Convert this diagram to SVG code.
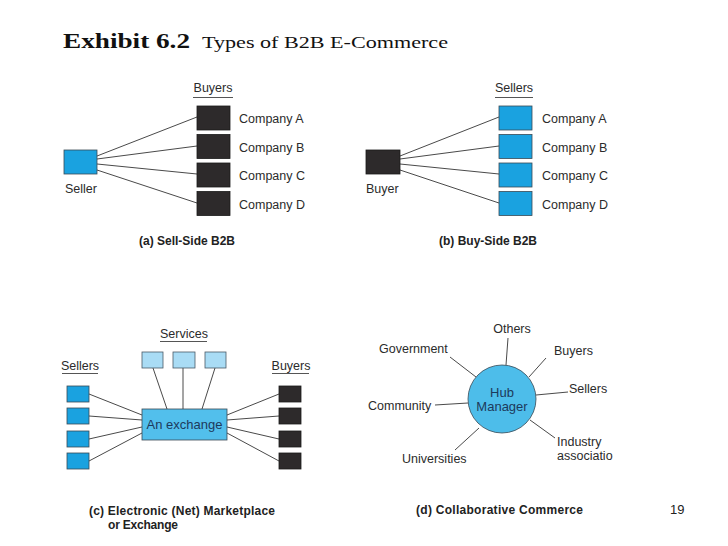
<svg xmlns="http://www.w3.org/2000/svg" width="728" height="546" viewBox="0 0 728 546">
<style>
text{font-family:"Liberation Sans",Arial,sans-serif;fill:#2b2b2b;font-size:12.5px}
text.t1{font-family:"Liberation Serif","Times New Roman",serif;fill:#111;font-size:21px;font-weight:bold}
text.t2{font-family:"Liberation Serif","Times New Roman",serif;fill:#111;font-size:17px}
text.cap{font-weight:bold;font-size:12px;fill:#222}
text.pg{font-size:13px;fill:#222}
.blue{fill:#1aa2e0;stroke:#3a4a55;stroke-width:0.8}
.dark{fill:#2d2a2b;stroke:#1a1a1a;stroke-width:0.8}
.light{fill:#a9dcf5;stroke:#4a5a66;stroke-width:0.8}
.mid{fill:#52bfec;stroke:#3a4a55;stroke-width:0.8}
.ln{stroke:#4a4a4a;stroke-width:1;fill:none}
.ul{stroke:#555;stroke-width:1}
text.navy{fill:#1d3a5c;font-size:13px}
</style>
<rect width="728" height="546" fill="#fff"/>
<g id="title">
<text class="t1" x="63" y="48" textLength="127" lengthAdjust="spacingAndGlyphs">Exhibit 6.2</text>
<text class="t2" x="202" y="48" textLength="246" lengthAdjust="spacingAndGlyphs">Types of B2B E-Commerce</text>
</g>
<g id="connectors">
<line class="ln" x1="97" y1="156" x2="197" y2="117"/>
<line class="ln" x1="97" y1="159" x2="197" y2="146"/>
<line class="ln" x1="97" y1="164" x2="197" y2="174"/>
<line class="ln" x1="97" y1="170" x2="197" y2="203"/>
<line class="ln" x1="400" y1="156" x2="499" y2="117"/>
<line class="ln" x1="400" y1="159" x2="499" y2="146"/>
<line class="ln" x1="400" y1="164" x2="499" y2="174"/>
<line class="ln" x1="400" y1="170" x2="499" y2="203"/>
<line class="ln" x1="89" y1="394" x2="142" y2="415"/>
<line class="ln" x1="89" y1="416" x2="142" y2="420"/>
<line class="ln" x1="89" y1="439" x2="142" y2="427"/>
<line class="ln" x1="89" y1="461" x2="142" y2="433"/>
<line class="ln" x1="279" y1="394" x2="227" y2="415"/>
<line class="ln" x1="279" y1="416" x2="227" y2="420"/>
<line class="ln" x1="279" y1="439" x2="227" y2="427"/>
<line class="ln" x1="279" y1="461" x2="227" y2="433"/>
<line class="ln" x1="153" y1="368" x2="167" y2="409"/>
<line class="ln" x1="183" y1="368" x2="183" y2="409"/>
<line class="ln" x1="215" y1="368" x2="202" y2="409"/>
<line class="ln" x1="508" y1="338" x2="506" y2="365"/>
<line class="ln" x1="450" y1="357" x2="476" y2="377"/>
<line class="ln" x1="546" y1="358" x2="529" y2="377"/>
<line class="ln" x1="568" y1="392" x2="536" y2="395"/>
<line class="ln" x1="435" y1="405" x2="468" y2="403"/>
<line class="ln" x1="555" y1="438" x2="530" y2="420"/>
<line class="ln" x1="455" y1="450" x2="479" y2="428"/>
</g>
<g id="panel-a">
<g id="a-seller"><rect class="blue" x="64" y="150" width="33" height="24"/><text x="65" y="193">Seller</text></g>
<g id="a-buyers-label"><text x="213" y="92" text-anchor="middle">Buyers</text><line class="ul" x1="193" y1="97.5" x2="233" y2="97.5"/></g>
<g id="a-company-a"><rect class="dark" x="197" y="106" width="33" height="24"/><text x="239" y="123">Company A</text></g>
<g id="a-company-b"><rect class="dark" x="197" y="134.5" width="33" height="24"/><text x="239" y="152">Company B</text></g>
<g id="a-company-c"><rect class="dark" x="197" y="163" width="33" height="24"/><text x="239" y="180">Company C</text></g>
<g id="a-company-d"><rect class="dark" x="197" y="191.5" width="33" height="24"/><text x="239" y="209">Company D</text></g>
<text class="cap" x="139" y="245">(a) Sell-Side B2B</text>
</g>
<g id="panel-b">
<g id="b-buyer"><rect class="dark" x="366" y="150" width="34" height="24"/><text x="366" y="193">Buyer</text></g>
<g id="b-sellers-label"><text x="514" y="92" text-anchor="middle">Sellers</text><line class="ul" x1="495" y1="97.5" x2="533" y2="97.5"/></g>
<g id="b-company-a"><rect class="blue" x="499" y="106" width="33" height="24"/><text x="542" y="123">Company A</text></g>
<g id="b-company-b"><rect class="blue" x="499" y="134.5" width="33" height="24"/><text x="542" y="152">Company B</text></g>
<g id="b-company-c"><rect class="blue" x="499" y="163" width="33" height="24"/><text x="542" y="180">Company C</text></g>
<g id="b-company-d"><rect class="blue" x="499" y="191.5" width="33" height="24"/><text x="542" y="209">Company D</text></g>
<text class="cap" x="439" y="245">(b) Buy-Side B2B</text>
</g>
<g id="panel-c">
<g id="c-services-label"><text x="184" y="338" text-anchor="middle">Services</text><line class="ul" x1="160" y1="341.5" x2="207" y2="341.5"/></g>
<g id="c-service-1"><rect class="light" x="142" y="352" width="21" height="16"/></g>
<g id="c-service-2"><rect class="light" x="173" y="352" width="22" height="16"/></g>
<g id="c-service-3"><rect class="light" x="205" y="352" width="21" height="16"/></g>
<g id="c-sellers-label"><text x="80" y="370" text-anchor="middle">Sellers</text><line class="ul" x1="62" y1="373.5" x2="98" y2="373.5"/></g>
<g id="c-buyers-label"><text x="291" y="370" text-anchor="middle">Buyers</text><line class="ul" x1="272" y1="373.5" x2="309" y2="373.5"/></g>
<g id="c-seller-1"><rect class="blue" x="67" y="386" width="22" height="16"/></g>
<g id="c-seller-2"><rect class="blue" x="67" y="408" width="22" height="16"/></g>
<g id="c-seller-3"><rect class="blue" x="67" y="431" width="22" height="16"/></g>
<g id="c-seller-4"><rect class="blue" x="67" y="453" width="22" height="16"/></g>
<g id="c-buyer-1"><rect class="dark" x="279" y="386" width="22" height="16"/></g>
<g id="c-buyer-2"><rect class="dark" x="279" y="408" width="22" height="16"/></g>
<g id="c-buyer-3"><rect class="dark" x="279" y="431" width="22" height="16"/></g>
<g id="c-buyer-4"><rect class="dark" x="279" y="453" width="22" height="16"/></g>
<g id="c-exchange"><rect class="mid" x="142" y="409" width="85" height="31"/><text class="navy" x="184.5" y="429" text-anchor="middle">An exchange</text></g>
<text class="cap" x="89" y="515" textLength="186">(c) Electronic (Net) Marketplace</text>
<text class="cap" x="108" y="529" textLength="70">or Exchange</text>
</g>
<g id="panel-d">
<g id="d-hub"><circle cx="502" cy="399" r="34" fill="#4dbdea" stroke="#3a4a55" stroke-width="0.8"/><text class="navy" x="502" y="397" text-anchor="middle">Hub</text><text class="navy" x="502" y="411" text-anchor="middle">Manager</text></g>
<g id="d-others"><text x="512" y="333" text-anchor="middle">Others</text></g>
<g id="d-government"><text x="379" y="353">Government</text></g>
<g id="d-buyers"><text x="554" y="355">Buyers</text></g>
<g id="d-sellers"><text x="569" y="393">Sellers</text></g>
<g id="d-community"><text x="368" y="410">Community</text></g>
<g id="d-industry"><text x="557" y="446">Industry</text><text x="557" y="460">associatio</text></g>
<g id="d-universities"><text x="402" y="463">Universities</text></g>
<text class="cap" x="416" y="514" textLength="167">(d) Collaborative Commerce</text>
</g>
<text class="pg" x="670" y="514">19</text>
</svg>
